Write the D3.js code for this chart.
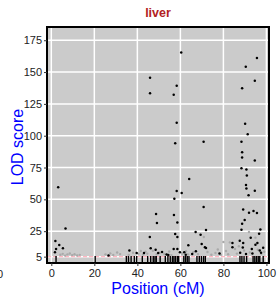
<!DOCTYPE html>
<html>
<head>
<meta charset="utf-8">
<script src="https://cdn.jsdelivr.net/npm/d3@7"></script>
<style>
  body { margin: 0; background: #fff; }
  svg { display: block; font-family: "Liberation Sans", Arial, sans-serif; }
</style>
</head>
<body>
<div id="chart"></div>
<script>
// LOD peaks above threshold (black)
const peakPos = [60.4, 95.6, 90.4, 94.6, 88.7, 45.9, 58.3, 45.9, 56.9, 58.3, 57.6, 70.8, 90.1, 91.3, 88.4, 88.7, 88.7, 94.6, 88.4, 90.7,
  90.9, 64.1, 90.5, 90.7, 94.6, 91.7, 58.3, 60.6, 57.2, 3.2, 48.7, 57.0, 49.1, 58.6, 57.6, 58.6, 45.8, 63.7, 46.2, 36.3,
  48.5, 56.9, 58.6, 51.5, 54.4, 39.7, 70.8, 89.2, 91.9, 94.0, 95.6, 88.7, 89.9, 71.9, 67.1, 69.4, 97.2, 88.4, 92.7, 96.6,
  87.6, 89.2, 95.8, 84.2, 84.2, 89.0, 69.9, 71.9, 93.2, 94.9, 96.9, 78.2, 6.6, 1.9, 3.7, 5.4, 2.2, 1.7, 26.6,
  43.1, 49.7, 53.6, 59.8, 61.8, 67.2, 71.4, 62.5, 65.5, 87.8, 90.5, 93.5, 97.5, 98.5];
const peakLod = [165.4, 161.1, 154.1, 143.1, 137.2, 145.5, 139.2, 133.3, 132.2, 110.2, 94.1, 95.3, 109.4, 101.1, 95.3, 87.0, 82.8, 80.5, 74.5, 73.4,
  68.7, 65.9, 61.2, 58.5, 56.7, 53.3, 56.5, 54.9, 50.4, 59.6, 38.5, 37.7, 31.4, 31.9, 22.8, 20.4, 20.4, 13.9, 11.5, 9.9,
  10.5, 11.0, 11.0, 8.7, 6.3, 7.9, 43.9, 42.1, 39.5, 40.8, 39.2, 30.9, 33.8, 25.9, 24.4, 22.2, 26.4, 26.2, 19.9, 23.0,
  17.5, 15.7, 15.7, 15.7, 12.3, 12.1, 15.0, 11.8, 11.0, 14.4, 9.9, 7.4, 27.2, 17.3, 14.2, 11.5, 11.0, 8.4, 5.8,
  7.9, 7.9, 6.6, 8.4, 8.4, 9.2, 12.3, 6.5, 7.0, 8.0, 7.0, 7.5, 8.0, 12.0];

// weaker peaks (grey)
const weakPos = [4.2, 5.3, 6.4, 7.5, 8.6, 9.7, 10.8, 12.0, 13.2, 25.2, 27.4, 28.8, 30.6, 32.0, 36.0, 38.0, 40.5, 41.6, 42.7, 43.8,
  44.6, 47.2, 49.0, 50.4, 52.5, 54.8, 55.8, 60.8, 62.6, 63.5, 66.0, 68.2, 70.9, 72.6, 74.4, 76.3, 77.4, 78.8, 80.0, 81.2,
  82.2, 83.0, 85.4, 86.3, 87.2, 89.6, 91.9, 92.3, 94.9, 96.0, 97.6, 99.0];
const weakLod = [6.5, 7.2, 5.8, 6.8, 7.5, 6.2, 6.9, 5.9, 6.4, 6.8, 7.6, 6.3, 8.2, 7.0, 6.4, 8.1, 7.2, 9.4, 6.6, 8.8,
  7.4, 9.6, 6.9, 8.0, 7.1, 9.0, 6.2, 7.3, 9.2, 6.8, 8.4, 7.0, 20.4, 8.7, 6.5, 7.8, 10.6, 6.4, 16.5, 9.4,
  6.9, 16.2, 11.0, 7.4, 13.2, 9.8, 24.4, 8.2, 19.9, 10.4, 7.2, 8.8];

// marker positions for the rug
const markerPos = [2.2, 20.4, 34.9, 35.9, 37.1, 38.6, 39.7, 42.3, 44.8, 46.2, 47.4, 48.2, 48.8, 50.6, 53.0, 54.2, 55.3, 56.3, 57.0, 57.7,
  58.6, 59.2, 61.6, 62.4, 63.2, 64.0, 67.7, 68.8, 69.8, 70.8, 71.6, 87.7, 88.6, 89.6, 90.8, 93.8, 94.6, 95.4, 96.2, 96.9, 98.5];

const xTicks = [0, 20, 40, 60, 80, 100];
const yTicks = [5, 25, 50, 75, 100, 125, 150, 175];
const threshold = 5;
const chartTitle = "liver";

const width = 277, height = 299;
const margin = { top: 27, right: 8, bottom: 36, left: 47 };

const svg = d3.select("#chart").append("svg")
  .attr("width", width)
  .attr("height", height);

const x = d3.scaleLinear().domain([-2, 101.2]).range([margin.left, width - margin.right]);
const y = d3.scaleLinear().domain([0, 185.4]).range([height - margin.bottom, margin.top]);

const pw = width - margin.left - margin.right;
const ph = height - margin.top - margin.bottom;

// panel background
svg.append("rect")
  .attr("x", margin.left).attr("y", margin.top)
  .attr("width", pw).attr("height", ph)
  .attr("fill", "#cbcbcb");

// grid lines
svg.selectAll(".vgrid").data(xTicks).enter().append("line")
  .attr("x1", d => x(d)).attr("x2", d => x(d))
  .attr("y1", margin.top).attr("y2", height - margin.bottom)
  .attr("stroke", "#fff").attr("stroke-width", 1.5);
svg.selectAll(".hgrid").data(yTicks).enter().append("line")
  .attr("x1", margin.left).attr("x2", width - margin.right)
  .attr("y1", d => y(d)).attr("y2", d => y(d))
  .attr("stroke", "#fff").attr("stroke-width", 1.5);

// threshold
svg.append("line")
  .attr("x1", margin.left).attr("x2", width - margin.right)
  .attr("y1", y(threshold)).attr("y2", y(threshold))
  .attr("stroke", "#ffb6c1").attr("stroke-width", 1.2)
  .attr("stroke-dasharray", "4,2");

// rug of markers
svg.selectAll(".rug").data(markerPos).enter().append("line")
  .attr("x1", d => x(d)).attr("x2", d => x(d))
  .attr("y1", height - margin.bottom).attr("y2", height - margin.bottom - 7)
  .attr("stroke", "#000").attr("stroke-width", 1.4);

// weak peaks
svg.selectAll(".weak").data(weakPos).enter().append("circle")
  .attr("cx", d => x(d))
  .attr("cy", (d, i) => y(weakLod[i]))
  .attr("r", 1.2)
  .attr("fill", "#a9a9a9");

// peaks
svg.selectAll(".peak").data(peakPos).enter().append("circle")
  .attr("cx", d => x(d))
  .attr("cy", (d, i) => y(peakLod[i]))
  .attr("r", 1.25)
  .attr("fill", "#000");

// frame
svg.append("rect")
  .attr("x", margin.left).attr("y", margin.top)
  .attr("width", pw).attr("height", ph)
  .attr("fill", "none").attr("stroke", "#000").attr("stroke-width", 2);

// axes
const yAxis = svg.append("g")
  .attr("transform", `translate(${margin.left},0)`)
  .call(d3.axisLeft(y).tickValues(yTicks).tickSize(3).tickPadding(2));
const xAxis = svg.append("g")
  .attr("transform", `translate(0,${height - margin.bottom})`)
  .call(d3.axisBottom(x).tickValues(xTicks).tickSize(3).tickPadding(3));
[yAxis, xAxis].forEach(g => {
  g.select(".domain").remove();
  g.selectAll("line").attr("stroke", "#333");
  g.selectAll("text").attr("fill", "#222").attr("font-size", 11)
    .attr("font-family", "Liberation Sans, Arial, sans-serif");
});

// clipped label of neighbouring panel
svg.append("text")
  .attr("x", 3).attr("y", 278)
  .attr("text-anchor", "end")
  .attr("font-size", 11).attr("fill", "#222")
  .text("100");

// titles
svg.append("text")
  .attr("x", margin.left + pw / 2).attr("y", 17)
  .attr("text-anchor", "middle")
  .attr("font-size", 12.5).attr("font-weight", "bold")
  .attr("fill", "#b22222")
  .text(chartTitle);

svg.append("text")
  .attr("x", margin.left + pw / 2).attr("y", 294)
  .attr("text-anchor", "middle")
  .attr("font-size", 16).attr("fill", "#0000ff")
  .text("Position (cM)");

svg.append("text")
  .attr("transform", `translate(23,${margin.top + ph / 2 + 2}) rotate(-90)`)
  .attr("text-anchor", "middle")
  .attr("font-size", 16).attr("fill", "#0000ff")
  .text("LOD score");
</script>
</body>
</html>
